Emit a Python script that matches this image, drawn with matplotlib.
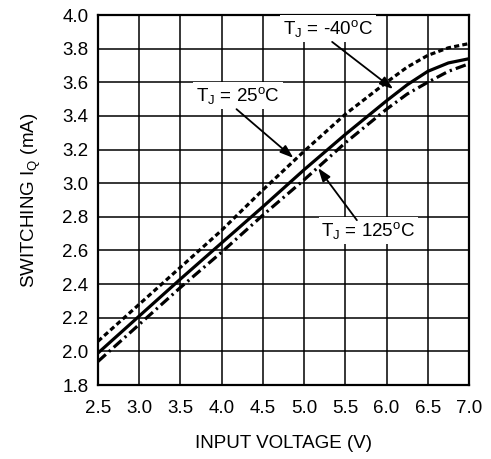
import matplotlib
matplotlib.use("Agg")
import matplotlib.pyplot as plt

plt.rcParams['font.family'] = ['Liberation Sans', 'DejaVu Sans']
plt.rcParams['mathtext.fontset'] = 'custom'
plt.rcParams['mathtext.rm'] = 'Liberation Sans'
plt.rcParams['mathtext.it'] = 'Liberation Sans'

# ---- data ----
voltage = [2.5, 3.0, 3.5, 4.0, 4.5, 5.0, 5.5, 6.0, 6.25, 6.5, 6.75, 7.0]
iq_m40 = [2.06, 2.28, 2.50, 2.72, 2.96, 3.19, 3.41, 3.60, 3.69, 3.76, 3.805, 3.83]
iq_25 = [1.99, 2.21, 2.43, 2.645, 2.86, 3.08, 3.29, 3.49, 3.585, 3.665, 3.715, 3.74]
iq_125 = [1.94, 2.16, 2.38, 2.59, 2.81, 3.02, 3.24, 3.44, 3.53, 3.60, 3.665, 3.71]

x_ticks = [2.5, 3.0, 3.5, 4.0, 4.5, 5.0, 5.5, 6.0, 6.5, 7.0]
y_ticks = [1.8, 2.0, 2.2, 2.4, 2.6, 2.8, 3.0, 3.2, 3.4, 3.6, 3.8, 4.0]

labels = ['T$_\\mathregular{J}$ = -40$^\\mathregular{o}$C',
          'T$_\\mathregular{J}$ = 25$^\\mathregular{o}$C',
          'T$_\\mathregular{J}$ = 125$^\\mathregular{o}$C']

FS = 13.5
fig = plt.figure(figsize=(4.91, 4.59), dpi=100)
ax = fig.add_axes([98/491, 1-385/459, (469-98)/491, (385-15)/459])

lw = 2.3
l1, = ax.plot(voltage, iq_m40, color='black', lw=lw, solid_capstyle='butt')
l1.set_dashes([1.6, 1.0])
l2, = ax.plot(voltage, iq_25, color='black', lw=lw)
l3, = ax.plot(voltage, iq_125, color='black', lw=lw)
l3.set_dashes([3.3, 1.3, 0.7, 1.3])

ax.set_xlim(2.5, 7.0)
ax.set_ylim(1.8, 4.0)
ax.set_xticks(x_ticks)
ax.set_yticks(y_ticks)
ax.set_xticklabels([f'{v:.1f}' for v in x_ticks])
ax.set_yticklabels([f'{v:.1f}' for v in y_ticks])
ax.tick_params(axis='both', length=0, labelsize=FS)
ax.tick_params(axis='x', pad=11)
ax.tick_params(axis='y', pad=7)
ax.grid(True, color='black', lw=1.1)
ax.set_axisbelow(True)
for s in ax.spines.values():
    s.set_linewidth(1.6)

ax.set_xlabel('INPUT VOLTAGE (V)', fontsize=FS, labelpad=13)
ax.set_ylabel('SWITCHING I$_\\mathregular{Q}$ (mA)', fontsize=FS, labelpad=14)

bb = dict(boxstyle='square,pad=0.15', fc='white', ec='none')
ax.text(5.29, 3.92, labels[0], fontsize=FS, ha='center', va='center', bbox=bb, zorder=3)
ax.text(4.20, 3.52, labels[1], fontsize=FS, ha='center', va='center', bbox=bb, zorder=3)
ax.text(5.78, 2.72, labels[2], fontsize=FS, ha='center', va='center', bbox=bb, zorder=3)

ap = dict(arrowstyle='-|>,head_length=0.8,head_width=0.28', color='black', lw=1.3,
          shrinkA=0, shrinkB=0, mutation_scale=10)
ax.annotate('', xy=(6.08, 3.56), xytext=(5.34, 3.84), arrowprops=ap, zorder=4)
ax.annotate('', xy=(4.87, 3.15), xytext=(4.18, 3.44), arrowprops=ap, zorder=4)
ax.annotate('', xy=(5.17, 3.09), xytext=(5.64, 2.78), arrowprops=ap, zorder=4)

fig.savefig('out.png', dpi=100)
